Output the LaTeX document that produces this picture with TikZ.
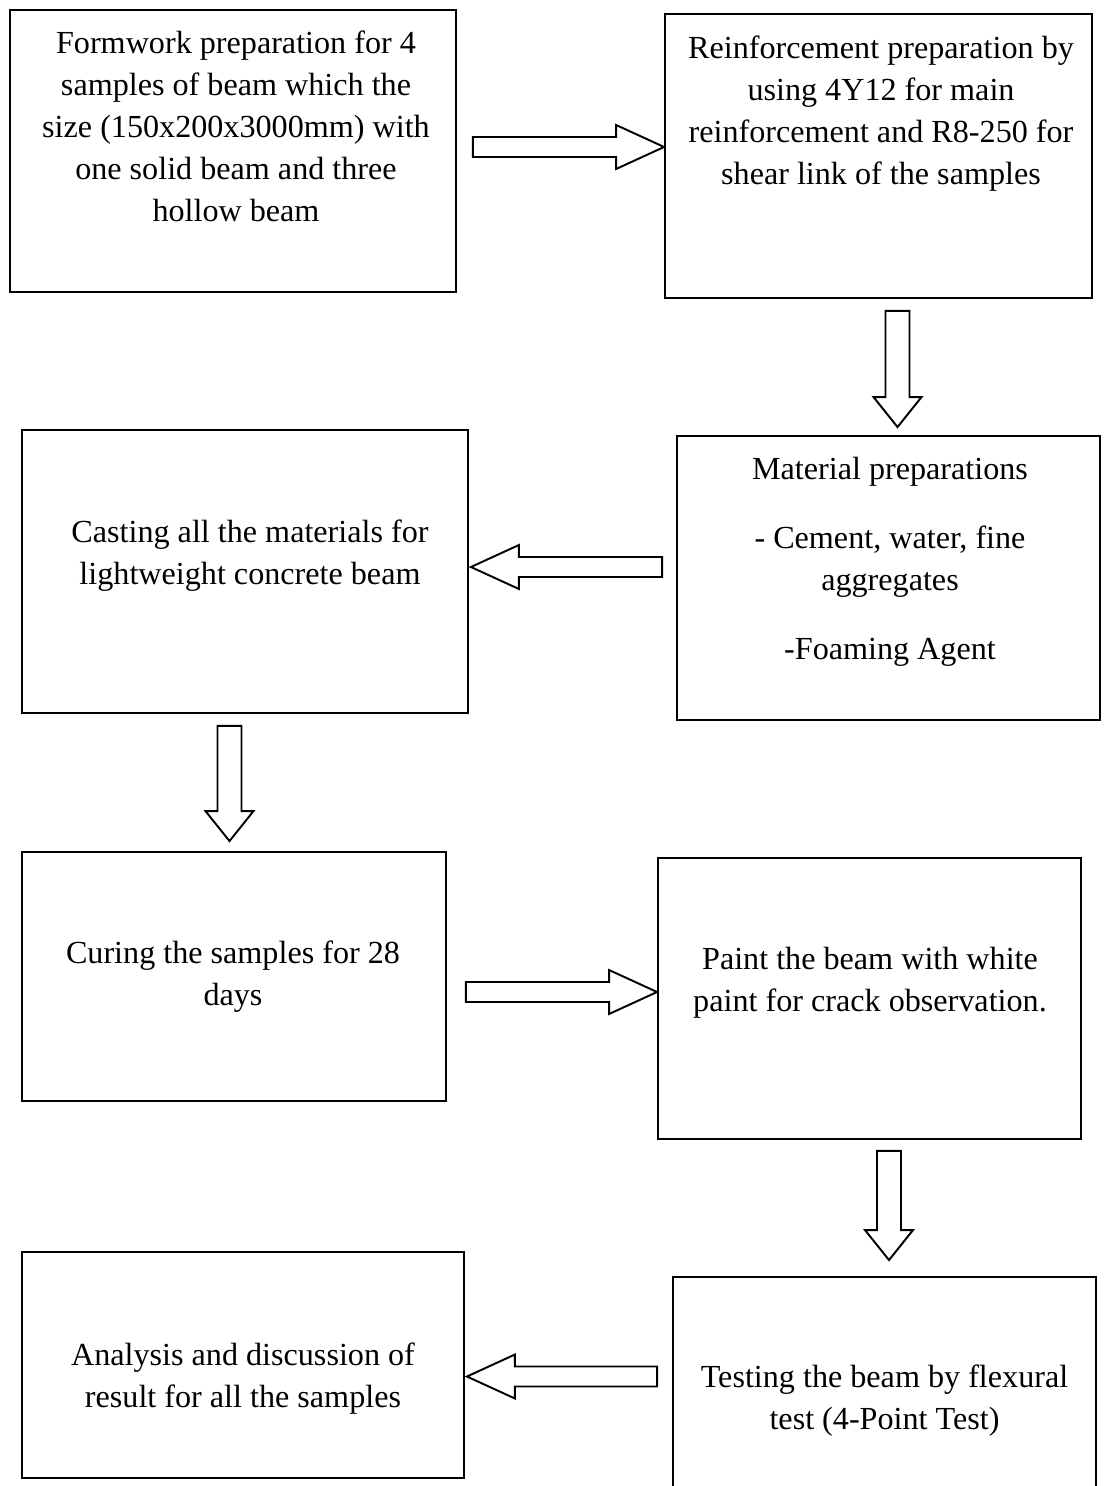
\documentclass[tikz,border=0pt]{standalone}
\usepackage{fontspec}
\setmainfont{Liberation Serif}
\usetikzlibrary{calc}

\begin{document}
\begin{tikzpicture}[x=0.02cm, y=-0.02cm,
  procbox/.style={draw, line width=1.1pt, inner sep=0pt},
  proctext/.style={align=center, inner sep=0pt, font=\fontsize{18.3}{23.9}\selectfont},
  blockarrow/.style n args={3}{draw, line width=1.1pt, line join=miter, to path={
    ($(\tikztostart)!{#1*0.02cm}!-90:(\tikztotarget)$)
    -- ($(\tikztotarget)!{sqrt(#3*#3+#1*#1)*0.02cm}!{atan(#1/#3)}:(\tikztostart)$)
    -- ($(\tikztotarget)!{sqrt(#3*#3+#2*#2)*0.02cm}!{atan(#2/#3)}:(\tikztostart)$)
    -- (\tikztotarget)
    -- ($(\tikztotarget)!{sqrt(#3*#3+#2*#2)*0.02cm}!{-atan(#2/#3)}:(\tikztostart)$)
    -- ($(\tikztotarget)!{sqrt(#3*#3+#1*#1)*0.02cm}!{-atan(#1/#3)}:(\tikztostart)$)
    -- ($(\tikztostart)!{#1*0.02cm}!90:(\tikztotarget)$)
    -- cycle}},
  harrow/.style={blockarrow={10}{22}{48}},
  varrow/.style={blockarrow={12}{24}{30}}]
\useasboundingbox (0,0) rectangle (1107,1486);
\fill[white] (0,0) rectangle (1107,1486);
\clip (0,0) rectangle (1107,1486);

% boxes
\node[procbox, minimum width=8.92cm, minimum height=5.64cm] (form) at (233,151) {};
\node[procbox, minimum width=8.54cm, minimum height=5.68cm] (reinf) at (878.5,156) {};
\node[procbox, minimum width=8.92cm, minimum height=5.66cm] (cast) at (245,571.5) {};
\node[procbox, minimum width=8.46cm, minimum height=5.68cm] (mater) at (888.5,578) {};
\node[procbox, minimum width=8.48cm, minimum height=4.98cm] (cure) at (234,976.5) {};
\node[procbox, minimum width=8.46cm, minimum height=5.62cm] (paint) at (869.5,998.5) {};
\node[procbox, minimum width=8.84cm, minimum height=4.52cm] (anal) at (243,1365) {};
\node[procbox, minimum width=8.46cm, minimum height=5.72cm] (test) at (884.5,1420) {};

% texts
\node[proctext] (formtxt) at ($(form.center)+(3,-25)$) {Formwork preparation for 4\\samples of beam which the\\size (150x200x3000mm) with\\one solid beam and three\\hollow beam};
\node[proctext] (reinftxt) at ($(reinf.center)+(2.5,-42)$) {Reinforcement preparation by\\using 4Y12 for main\\reinforcement and R8-250 for\\shear link of the samples};
\node[proctext] (casttxt) at ($(cast.center)+(5,-16)$) {Casting all the materials for\\lightweight concrete beam};
\node[proctext] (matertxt) at ($(mater.center)+(1.5,-16)$) {Material preparations\\[15.4pt]- Cement, water, fine\\aggregates\\[15.4pt]-Foaming Agent};
\node[proctext] (curetxt) at ($(cure.center)+(-1,0)$) {Curing the samples for 28\\days};
\node[proctext] (painttxt) at ($(paint.center)+(0.5,-15.5)$) {Paint the beam with white\\paint for crack observation.};
\node[proctext] (analtxt) at ($(anal.center)+(0,14)$) {Analysis and discussion of\\result for all the samples};
\node[proctext] (testtxt) at ($(test.center)+(0,-19.5)$) {Testing the beam by flexural\\test (4-Point Test)};

% arrows
\draw[harrow] ($(form.east)+(16,-4)$) to ($(reinf.west|-form.east)+(0,-4)$);
\draw[varrow] ($(reinf.south)+(19,12)$) to ($(mater.north)+(9,-8)$);
\draw[harrow] ($(mater.west)+(-14,-11)$) to ($(cast.east)+(2,-4.5)$);
\draw[varrow] ($(cast.south)+(-15.5,12)$) to ($(cure.north)+(-4.5,-10)$);
\draw[harrow] ($(cure.east)+(19,15.5)$) to ($(paint.west)+(0,-6.5)$);
\draw[varrow] ($(paint.south)+(19.5,11)$) to ($(test.north)+(4.5,-16)$);
\draw[harrow] ($(test.west)+(-15,-43.5)$) to ($(anal.east)+(2,11.5)$);
\end{tikzpicture}
\end{document}
